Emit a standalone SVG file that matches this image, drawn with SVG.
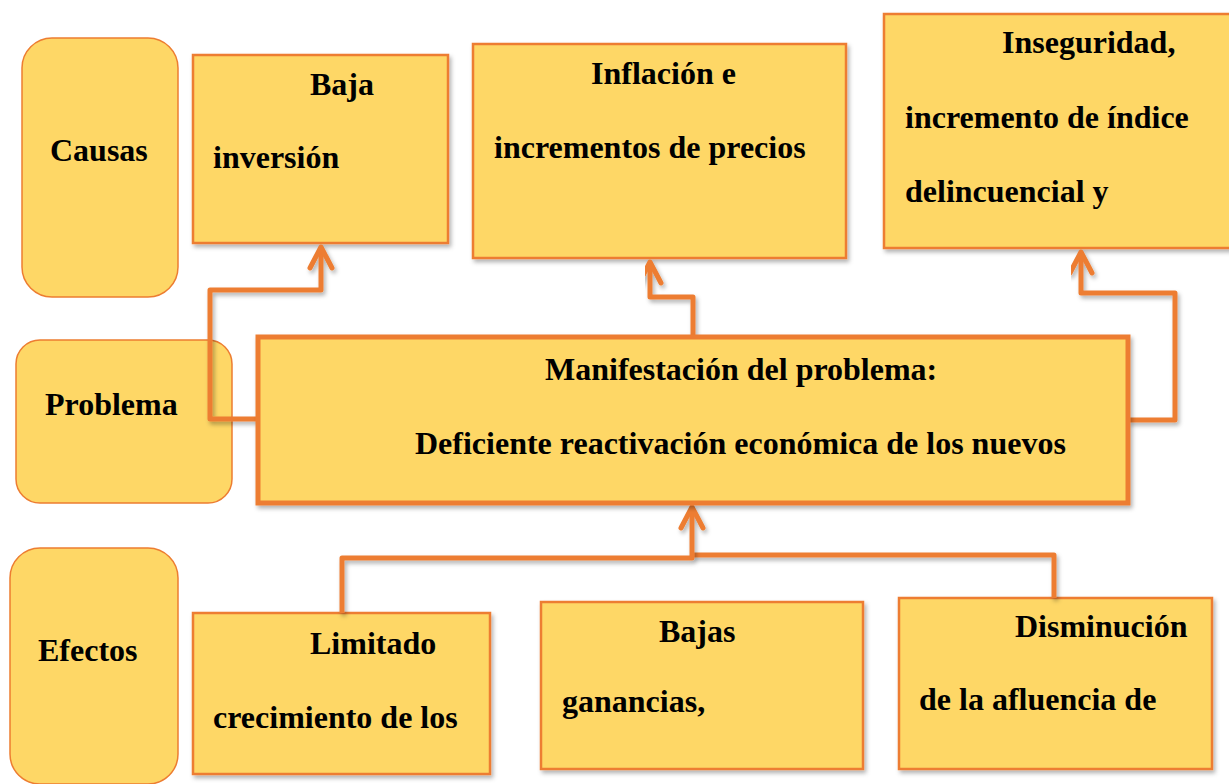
<svg xmlns="http://www.w3.org/2000/svg" width="1229" height="784" viewBox="0 0 1229 784">
<defs>
<filter id="sh" x="-10%" y="-10%" width="130%" height="130%">
<feDropShadow dx="2" dy="3" stdDeviation="2" flood-color="#000" flood-opacity="0.3"/>
</filter>
<marker id="arr" viewBox="0 0 30 30" refX="25" refY="15" markerWidth="30" markerHeight="30" orient="auto" markerUnits="userSpaceOnUse">
<path d="M4 4 L25 15 L4 26" fill="none" stroke="#ED7D31" stroke-width="5" stroke-linecap="round" stroke-linejoin="round"/>
</marker>
<style>
.lab{fill:#FED766;stroke:#ED7D31;stroke-width:1.5}
.box{fill:#FED766;stroke:#ED7D31;stroke-width:2.5;filter:url(#sh)}
.main{fill:#FED766;stroke:#ED7D31;stroke-width:5;filter:url(#sh)}
.t{font-family:"Liberation Serif","Times New Roman",serif;font-weight:bold;font-size:32px;fill:#000}
.c{fill:none;stroke:#ED7D31;stroke-width:5;stroke-linejoin:round;filter:url(#sh)}
</style>
</defs>
<rect width="1229" height="784" fill="#fff"/>
<g id="causas"><rect class="lab" x="22" y="38" width="156" height="259" rx="30"/><text class="t" x="50" y="161">Causas</text></g>
<g id="problema"><rect class="lab" x="16" y="340" width="216" height="163" rx="24"/><text class="t" x="45" y="415">Problema</text></g>
<g id="efectos"><rect class="lab" x="10" y="548" width="168" height="236" rx="30"/><text class="t" x="38" y="661">Efectos</text></g>
<g id="baja"><rect class="box" x="193" y="55" width="255" height="188"/><text class="t" x="310" y="95">Baja</text><text class="t" x="213" y="168">inversión</text></g>
<g id="inflacion"><rect class="box" x="473" y="44" width="373" height="214"/><text class="t" x="591" y="84">Inflación e</text><text class="t" x="494" y="158">incrementos de precios</text></g>
<g id="inseguridad"><rect class="box" x="884" y="14" width="360" height="234"/><text class="t" x="1002" y="53">Inseguridad,</text><text class="t" x="905" y="128">incremento de índice</text><text class="t" x="905" y="202">delincuencial y</text></g>
<g id="limitado"><rect class="box" x="193" y="613" width="297" height="161"/><text class="t" x="310" y="654">Limitado</text><text class="t" x="213" y="728">crecimiento de los</text></g>
<g id="bajas"><rect class="box" x="541" y="602" width="322" height="167"/><text class="t" x="659" y="642">Bajas</text><text class="t" x="562" y="712">ganancias,</text></g>
<g id="disminucion"><rect class="box" x="899" y="598" width="313" height="171"/><text class="t" x="1015" y="637">Disminución</text><text class="t" x="919" y="710">de la afluencia de</text></g>
<g id="connectors">
<path class="c" d="M258 419 H210 V290 H321 V247" marker-end="url(#arr)"/>
<path class="c" d="M693 337 V297 H650 V262" marker-end="url(#arr)"/>
<path class="c" d="M1128 420 H1175 V293 H1081 V252" marker-end="url(#arr)"/>
<path class="c" d="M1054 598 V555 H692"/>
<path class="c" d="M702 602 V555"/>
<path class="c" d="M342 613 V558 H692 V507" marker-end="url(#arr)"/>
</g>
<g id="manifestacion"><rect class="main" x="258" y="337" width="870" height="166"/><text class="t" x="545" y="380">Manifestación del problema:</text><text class="t" x="415" y="454">Deficiente reactivación económica de los nuevos</text></g>
</svg>
